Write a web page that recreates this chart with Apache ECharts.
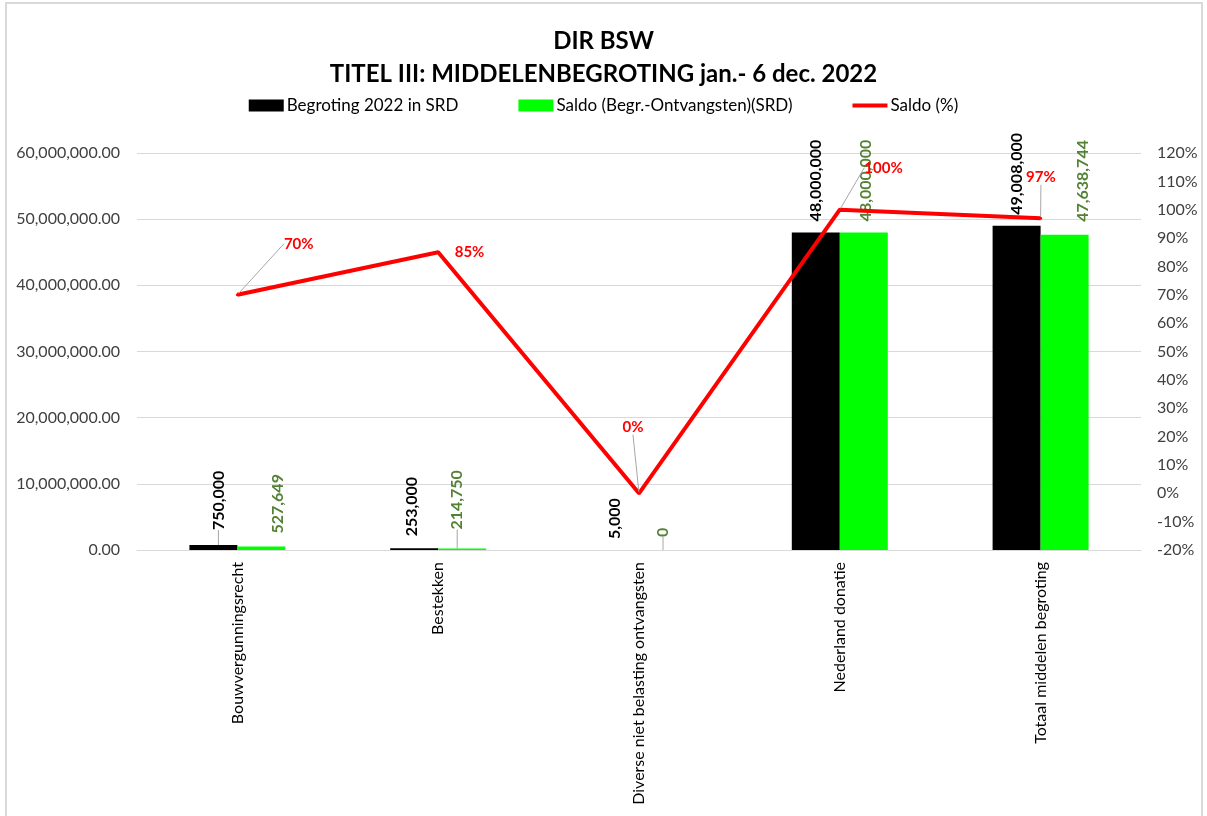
<!DOCTYPE html>
<html>
<head>
<meta charset="utf-8">
<script src="https://cdn.jsdelivr.net/npm/echarts@6/dist/echarts.min.js"></script>
<style>
html,body{margin:0;padding:0;background:#fff;}
#frame{position:absolute;left:5px;top:2px;width:1198px;height:830px;border:2px solid #d9d9d9;box-sizing:border-box;}
#chart{position:absolute;left:0;top:0;width:1207px;height:816px;}
</style>
</head>
<body>
<div id="frame"></div>
<div id="chart"></div>
<script>
const categories = ['Bouwvergunningsrecht', 'Bestekken', 'Diverse niet belasting ontvangsten', 'Nederland donatie', 'Totaal middelen begroting'];
const begroting = [750000, 253000, 5000, 48000000, 49008000];
const saldo = [527649, 214750, 0, 48000000, 47638744];
const saldoPct = [0.70, 0.85, 0.00, 1.00, 0.97];
const seriesNames = ['Begroting 2022 in SRD', 'Saldo (Begr.-Ontvangsten)(SRD)', 'Saldo (%)'];

// label nudges (screen px: [right, down]) and leader-line flags (layout only)
const barNudge = [
  [[5, -4], [-2, -1], [0, 0], [0, 0], [0, 0]],
  [[16, -2], [-5, -8], [0, -2], [2, 0], [18, -2]]
];
const barLeader = [
  [true, false, false, false, false],
  [false, true, true, false, false]
];
const lineNudge = [[30, -51], [0, 0], [-33, -66], [8, -42], [-31, -41]];
const lineLeader = [true, false, true, true, true];

const FONT = 'Lato';
const LEADER = {color: '#a6a6a6', width: 1};
const chart = echarts.init(document.getElementById('chart'), null, {renderer: 'canvas'});

function fmtInt(v) { return Number(v).toLocaleString('en-US'); }
function pct(v) { return Math.round(v * 100) + '%'; }

const barLabel = (color) => ({
  show: true,
  position: 'top',
  rotate: 90,
  align: 'left',
  verticalAlign: 'middle',
  distance: 11,
  color: color,
  fontFamily: FONT,
  fontWeight: 'bold',
  fontSize: 16,
  formatter: (p) => fmtInt(p.value)
});

function barData(values, s) {
  return values.map((v, i) => ({value: v, labelLine: {show: barLeader[s][i], lineStyle: LEADER}}));
}
// rotated (90deg) labels: local x runs upward, local y runs rightward
function rotNudge(s) {
  return (p) => {
    const n = barNudge[s][p.dataIndex];
    return {dx: -n[1], dy: n[0]};
  };
}

const option = {
  backgroundColor: 'transparent',
  animation: false,
  title: {
    text: 'DIR BSW\nTITEL III: MIDDELENBEGROTING jan.- 6 dec. 2022',
    left: 'center',
    top: 20,
    textStyle: {fontFamily: FONT, fontWeight: 'bold', fontSize: 24, lineHeight: 33, color: '#000'}
  },
  legend: {
    top: 92,
    left: 'center',
    itemWidth: 35,
    itemHeight: 12,
    itemGap: 60,
    textStyle: {fontFamily: FONT, fontSize: 17, color: '#000', padding: [0, 0, 0, -2]},
    data: [
      {name: seriesNames[0], icon: 'rect'},
      {name: seriesNames[1], icon: 'rect'},
      {name: seriesNames[2], icon: 'path://M0,0H1V0.01H0Z M0,4H35V8H0Z M0,11.99H1V12H0Z'}
    ]
  },
  grid: {left: 137, right: 66, top: 153, bottom: 266, containLabel: false},
  xAxis: {
    type: 'category',
    data: categories,
    axisTick: {show: false},
    axisLine: {lineStyle: {color: '#d9d9d9', width: 1}},
    axisLabel: {interval: 0, rotate: 90, margin: 12, fontFamily: FONT, fontSize: 16, color: '#000'}
  },
  yAxis: [
    {
      type: 'value', min: 0, max: 60000000, interval: 10000000,
      axisLine: {show: false}, axisTick: {show: false},
      splitLine: {lineStyle: {color: '#d9d9d9', width: 1}},
      axisLabel: {margin: 17, fontFamily: FONT, fontSize: 16, color: '#404040',
        formatter: (v) => Number(v).toLocaleString('en-US', {minimumFractionDigits: 2, maximumFractionDigits: 2})}
    },
    {
      type: 'value', min: -0.2, max: 1.2, interval: 0.1,
      axisLine: {show: false}, axisTick: {show: false}, splitLine: {show: false},
      axisLabel: {margin: 16, fontFamily: FONT, fontSize: 16, color: '#404040', formatter: pct}
    }
  ],
  series: [
    {
      name: seriesNames[0], type: 'bar', data: barData(begroting, 0), yAxisIndex: 0,
      barWidth: 48, barGap: '0%',
      itemStyle: {color: '#000000'},
      label: barLabel('#000000'),
      labelLayout: rotNudge(0)
    },
    {
      name: seriesNames[1], type: 'bar', data: barData(saldo, 1), yAxisIndex: 0,
      barWidth: 48, barGap: '0%',
      itemStyle: {color: '#00ff00'},
      label: barLabel('#548235'),
      labelLayout: rotNudge(1)
    },
    {
      name: seriesNames[2], type: 'line', yAxisIndex: 1,
      data: saldoPct.map((v, i) => ({value: v, labelLine: {show: lineLeader[i], lineStyle: LEADER}})),
      symbol: 'circle', symbolSize: 3,
      lineStyle: {color: '#ff0000', width: 4},
      itemStyle: {color: '#ff0000'},
      label: {show: true, position: 'right', distance: 15, color: '#ff0000', fontFamily: FONT,
        fontWeight: 'bold', fontSize: 15, formatter: (p) => pct(p.value)},
      labelLayout: (p) => ({dx: lineNudge[p.dataIndex][0], dy: lineNudge[p.dataIndex][1]}),
      z: 5
    }
  ]
};
chart.setOption(option);
</script>
</body>
</html>
